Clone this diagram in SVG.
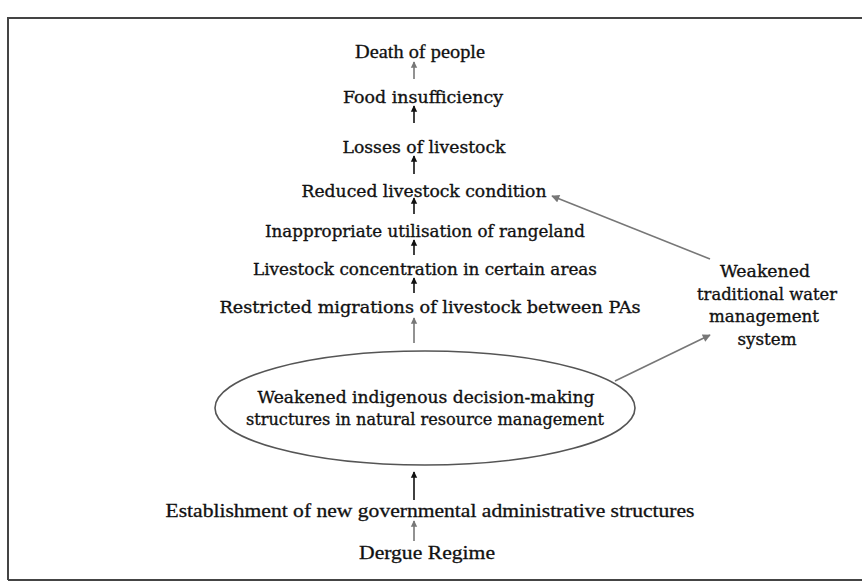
<svg xmlns="http://www.w3.org/2000/svg" width="864" height="585" viewBox="0 0 864 585">
<defs>
<marker id="ab" viewBox="0 0 10 10" refX="9" refY="5" markerWidth="4" markerHeight="5" orient="auto"><path d="M0,0 L10,5 L0,10 Z" fill="#111"/></marker>
<marker id="ag" viewBox="0 0 10 10" refX="9" refY="5" markerWidth="4" markerHeight="5" orient="auto"><path d="M0,0 L10,5 L0,10 Z" fill="#777"/></marker>
<marker id="ad" viewBox="0 0 10 10" refX="9" refY="5" markerWidth="6" markerHeight="5" orient="auto"><path d="M0,0 L10,5 L0,10 Z" fill="#777"/></marker>
</defs>
<style>
.b{font-family:"DejaVu Serif","Liberation Serif",serif;font-size:17px;fill:#111;stroke:#111;stroke-width:0.35;text-anchor:middle}
.t{font-family:"Liberation Serif","Times New Roman",serif;font-size:19px;fill:#111;stroke:#111;stroke-width:0.3;text-anchor:middle}
.k{stroke:#111;stroke-width:1.6;fill:none;marker-end:url(#ab)}
.g{stroke:#777;stroke-width:1.6;fill:none;marker-end:url(#ag)}
.d{stroke:#777;stroke-width:1.6;fill:none;marker-end:url(#ad)}
</style>
<rect width="864" height="585" fill="#fff"/>
<path d="M8,580 L8,18 L862,18 M8,580 L862,580" stroke="#444" stroke-width="2" fill="none"/>
<g id="death"><text class="t" x="420" y="58" textLength="130" lengthAdjust="spacingAndGlyphs">Death of people</text></g>
<g id="food"><text class="b" x="423" y="103" textLength="160" lengthAdjust="spacingAndGlyphs">Food insufficiency</text></g>
<g id="losses"><text class="b" x="424" y="153" textLength="163" lengthAdjust="spacingAndGlyphs">Losses of livestock</text></g>
<g id="reduced"><text class="b" x="424" y="197" textLength="245" lengthAdjust="spacingAndGlyphs">Reduced livestock condition</text></g>
<g id="inapp"><text class="b" x="425" y="237" textLength="320" lengthAdjust="spacingAndGlyphs">Inappropriate utilisation of rangeland</text></g>
<g id="conc"><text class="b" x="425" y="275" textLength="344" lengthAdjust="spacingAndGlyphs">Livestock concentration in certain areas</text></g>
<g id="restr"><text class="b" x="430" y="313" textLength="421" lengthAdjust="spacingAndGlyphs">Restricted migrations of livestock between PAs</text></g>
<g id="weak">
<ellipse cx="425" cy="408" rx="210" ry="57" fill="none" stroke="#555" stroke-width="1.6"/>
<text class="b" x="426" y="403" textLength="337" lengthAdjust="spacingAndGlyphs">Weakened indigenous decision-making</text>
<text class="b" x="425" y="425" textLength="358" lengthAdjust="spacingAndGlyphs">structures in natural resource management</text>
</g>
<g id="estab"><text class="t" x="430" y="517" textLength="529" lengthAdjust="spacingAndGlyphs">Establishment of new governmental administrative structures</text></g>
<g id="dergue"><text class="t" x="427" y="559" textLength="136" lengthAdjust="spacingAndGlyphs">Dergue Regime</text></g>
<g id="water">
<text class="b" x="765" y="277" textLength="90" lengthAdjust="spacingAndGlyphs">Weakened</text>
<text class="b" x="767" y="300" textLength="140" lengthAdjust="spacingAndGlyphs">traditional water</text>
<text class="b" x="764" y="322" textLength="110" lengthAdjust="spacingAndGlyphs">management</text>
<text class="b" x="767" y="345" textLength="59" lengthAdjust="spacingAndGlyphs">system</text>
</g>
<g id="connectors">
<line class="g" x1="414" y1="79" x2="414" y2="62"/>
<line class="k" x1="414" y1="123" x2="414" y2="106"/>
<line class="k" x1="414" y1="174" x2="414" y2="156"/>
<line class="k" x1="414" y1="214" x2="414" y2="198"/>
<line class="k" x1="414" y1="255" x2="414" y2="240"/>
<line class="k" x1="414" y1="293" x2="414" y2="278"/>
<line class="g" x1="414" y1="343" x2="414" y2="318"/>
<line class="k" x1="414" y1="500" x2="414" y2="472"/>
<line class="g" x1="414" y1="541" x2="414" y2="521"/>
<line class="d" x1="710" y1="259" x2="552" y2="196"/>
<line class="d" x1="615" y1="381" x2="710" y2="335"/>
</g>
</svg>
